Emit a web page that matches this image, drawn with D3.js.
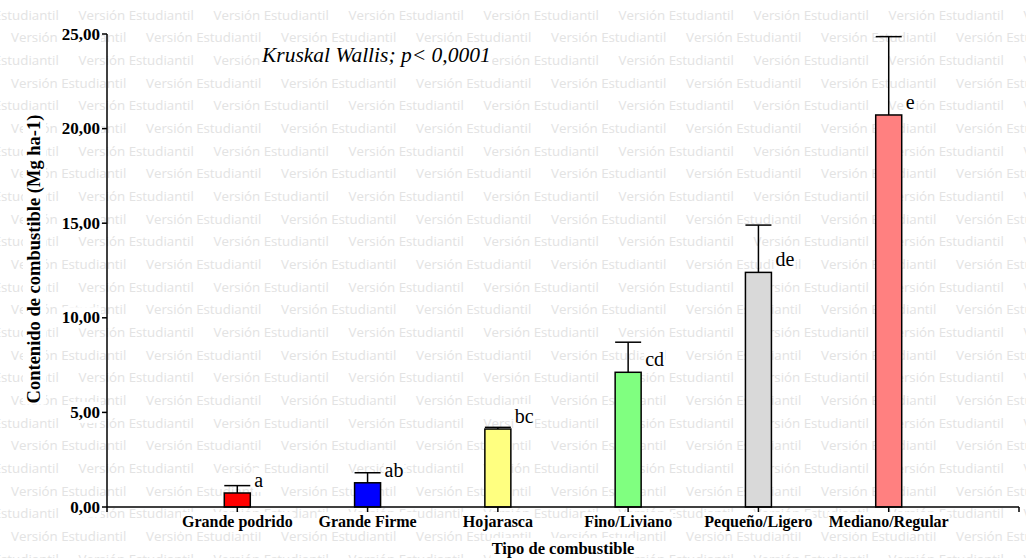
<!DOCTYPE html>
<html>
<head>
<meta charset="utf-8">
<script src="https://cdn.jsdelivr.net/npm/d3@7"></script>
<style>
  html, body { margin: 0; padding: 0; background: #fff; }
  svg { display: block; }
</style>
</head>
<body>
<svg id="chart" width="1026" height="558"></svg>
<script>
// Fuel load by fuel type (Mg ha-1): means, upper error and Kruskal-Wallis groups
const categories = ["Grande podrido", "Grande Firme", "Hojarasca", "Fino/Liviano", "Pequeño/Ligero", "Mediano/Regular"];
const means = [0.74, 1.28, 4.12, 7.12, 12.40, 20.72];
const errors = [0.39, 0.53, 0.09, 1.59, 2.50, 4.14];
const groups = ["a", "ab", "bc", "cd", "de", "e"];
const barColors = ["#ff0000", "#0000ff", "#ffff80", "#80ff80", "#d9d9d9", "#ff8080"];
const yTicks = [0, 5, 10, 15, 20, 25];
const yLabel = "Contenido de combustible (Mg ha-1)";
const xLabel = "Tipo de combustible";
const testLabel = "Kruskal Wallis; p< 0,0001";
const watermark = "Versión Estudiantil";

const svg = d3.select("#chart");

const x = d3.scalePoint().domain(categories).range([107, 1019]).padding(1);
const y = d3.scaleLinear().domain([0, 25]).range([507, 34]);
const fmt = v => d3.format(".2f")(v).replace(".", ",");
const serif = "'Liberation Serif', 'Times New Roman', serif";

// background watermark rows
const wm = svg.append("g").attr("fill", "#e3e3e3")
  .style("font-family", "'Open Sans', sans-serif").style("font-size", "13.3px");
const rowStep = 22.68, colStep = 135;
d3.range(0, 26).forEach(k => {
  const cy = 15 + k * rowStep + 4.5;
  const off = (k % 2 === 1) ? 11 : 11 + colStep / 2;
  d3.range(-1, 9).forEach(j => {
    wm.append("text").attr("x", off + j * colStep).attr("y", cy).text(watermark);
  });
});

// white backing behind a text element
function knockout(sel, pad) {
  sel.each(function () {
    const b = this.getBBox();
    const t = this.getAttribute("transform");
    d3.select(this.parentNode).insert("rect", () => this)
      .attr("x", b.x - pad).attr("y", b.y - pad)
      .attr("width", b.width + 2 * pad).attr("height", b.height + 2 * pad)
      .attr("transform", t).attr("fill", "#fff");
  });
}

const plot = svg.append("g");
const bw = 26;

// bars
plot.selectAll("rect.bar").data(categories).join("rect")
  .attr("class", "bar")
  .attr("x", d => x(d) - bw / 2)
  .attr("y", (d, i) => y(means[i]))
  .attr("width", bw)
  .attr("height", (d, i) => y(0) - y(means[i]))
  .attr("fill", (d, i) => barColors[i])
  .attr("stroke", "#000").attr("stroke-width", 1.5);

// upper error bars
const eb = plot.selectAll("g.err").data(categories).join("g").attr("class", "err")
  .attr("stroke", "#000").attr("stroke-width", 1.5);
eb.append("line")
  .attr("x1", d => x(d)).attr("x2", d => x(d))
  .attr("y1", (d, i) => y(means[i])).attr("y2", (d, i) => y(means[i] + errors[i]));
eb.append("line")
  .attr("x1", d => x(d) - bw / 2).attr("x2", d => x(d) + bw / 2)
  .attr("y1", (d, i) => y(means[i] + errors[i])).attr("y2", (d, i) => y(means[i] + errors[i]));

// group letters
const letters = plot.append("g").selectAll("text").data(categories).join("text")
  .attr("x", d => x(d) + bw / 2 + 4)
  .attr("y", (d, i) => y(means[i]) - 6)
  .style("font-family", serif).style("font-size", "20px").attr("fill", "#000")
  .text((d, i) => groups[i]);

// axes
const axes = svg.append("g").attr("stroke", "#000").attr("stroke-width", 1.5);
axes.append("line").attr("x1", 107).attr("x2", 107).attr("y1", y(25)).attr("y2", y(0) + 5);
axes.append("line").attr("x1", 107).attr("x2", 1019).attr("y1", y(0)).attr("y2", y(0));
axes.selectAll("line.yt").data(yTicks).join("line").attr("class", "yt")
  .attr("x1", 102).attr("x2", 107).attr("y1", d => y(d)).attr("y2", d => y(d));
axes.selectAll("line.xt").data(categories.map(c => x(c)).concat([1019])).join("line").attr("class", "xt")
  .attr("x1", d => d).attr("x2", d => d).attr("y1", y(0)).attr("y2", y(0) + 5);

const labels = svg.append("g").attr("fill", "#000").style("font-family", serif);

const yt = labels.selectAll("text.ytl").data(yTicks).join("text").attr("class", "ytl")
  .attr("x", 100).attr("y", d => y(d) + 5.5)
  .attr("text-anchor", "end").style("font-weight", "bold").style("font-size", "17px")
  .text(fmt);

const xt = labels.selectAll("text.xtl").data(categories).join("text").attr("class", "xtl")
  .attr("x", d => x(d)).attr("y", 527)
  .attr("text-anchor", "middle").style("font-weight", "bold").style("font-size", "16px")
  .text(d => d);

const xTitle = labels.append("text")
  .attr("x", (107 + 1019) / 2).attr("y", 554)
  .attr("text-anchor", "middle").style("font-weight", "bold").style("font-size", "16.5px")
  .text(xLabel);

const yTitle = labels.append("text")
  .attr("transform", "translate(40,259) rotate(-90)")
  .attr("text-anchor", "middle").style("font-weight", "bold").style("font-size", "18.5px")
  .text(yLabel);

const title = labels.append("text")
  .attr("x", 262).attr("y", 62)
  .style("font-style", "italic").style("font-size", "21.5px")
  .text(testLabel);

knockout(yt, 1);
knockout(xt, 1);
knockout(xTitle, 1);
knockout(yTitle, 1);
knockout(title, 1);
knockout(letters, 1);
</script>
</body>
</html>
